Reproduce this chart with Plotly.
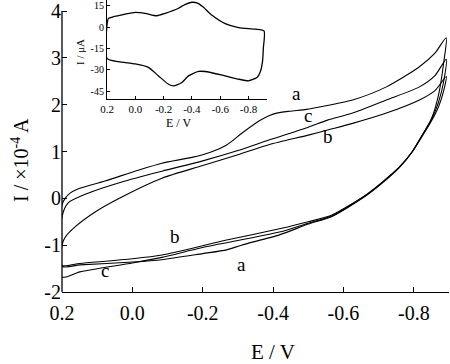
import plotly.graph_objects as go

# ---------------- main CV data (E / V, I / 1e-4 A) ----------------
E_a_fwd = [0.2, 0.191, 0.177, 0.155, 0.078, -0.016, -0.084, -0.172, -0.22, -0.268, -0.313, -0.362, -0.39, -0.41, -0.447, -0.495, -0.532, -0.626, -0.722, -0.816, -0.86, -0.892]
I_a_fwd = [-0.14, 0.0, 0.11, 0.2, 0.37, 0.6, 0.75, 0.88, 0.98, 1.14, 1.4, 1.66, 1.77, 1.82, 1.86, 1.9, 1.95, 2.1, 2.38, 2.81, 3.1, 3.43]
E_a_rev = [-0.885, -0.87, -0.85, -0.82, -0.796, -0.759, -0.711, -0.665, -0.569, -0.5, -0.418, -0.31, -0.268, -0.2, -0.084, 0.0, 0.149, 0.2]
I_a_rev = [2.9, 2.2, 1.7, 1.3, 1.0, 0.66, 0.33, 0.06, -0.38, -0.55, -0.78, -1.0, -1.1, -1.18, -1.31, -1.36, -1.42, -1.45]

E_b_fwd = [0.2, 0.191, 0.163, 0.106, 0.03, -0.084, -0.2, -0.3, -0.39, -0.5, -0.555, -0.626, -0.722, -0.816, -0.86, -0.892]
I_b_fwd = [-1.0, -0.83, -0.61, -0.29, 0.03, 0.43, 0.7, 0.93, 1.15, 1.35, 1.46, 1.6, 1.82, 2.1, 2.3, 2.6]
E_b_rev = [-0.885, -0.87, -0.85, -0.82, -0.796, -0.759, -0.711, -0.665, -0.569, -0.5, -0.418, -0.268, -0.084, 0.0, 0.149, 0.2]
I_b_rev = [2.3, 1.95, 1.65, 1.28, 1.0, 0.67, 0.35, 0.08, -0.35, -0.5, -0.65, -0.89, -1.21, -1.29, -1.39, -1.43]

E_c_fwd = [0.2, 0.183, 0.126, 0.03, -0.084, -0.2, -0.3, -0.39, -0.5, -0.555, -0.626, -0.722, -0.816, -0.86, -0.892]
I_c_fwd = [-0.4, -0.1, 0.11, 0.35, 0.58, 0.8, 1.02, 1.25, 1.52, 1.67, 1.82, 2.1, 2.38, 2.62, 2.97]
E_c_rev = [-0.885, -0.87, -0.85, -0.82, -0.796, -0.759, -0.711, -0.665, -0.569, -0.5, -0.418, -0.2, -0.084, 0.0, 0.149, 0.2]
I_c_rev = [2.5, 2.05, 1.68, 1.3, 1.0, 0.66, 0.34, 0.07, -0.37, -0.53, -0.72, -1.05, -1.26, -1.38, -1.57, -1.68]

# ---------------- inset CV data (E / V, I / uA) ----------------
E_in_top = [0.2, 0.19, 0.154, 0.071, 0.0, -0.07, -0.152, -0.211, -0.305, -0.35, -0.4, -0.44, -0.48, -0.54, -0.635, -0.73, -0.847, -0.91]
I_in_top = [1.4, 6.2, 7.4, 9.3, 10.5, 9.8, 8.1, 9.8, 13.4, 16.0, 17.6, 17.0, 14.2, 8.6, 2.6, -0.2, -1.4, -2.6]
E_in_turn = [-0.905, -0.9, -0.885, -0.86, -0.823, -0.8]
I_in_turn = [-15.0, -23.5, -31.0, -35.5, -37.1, -37.8]
E_in_bot = [-0.73, -0.635, -0.494, -0.447, -0.376, -0.329, -0.27, -0.235, -0.164, -0.093, 0.0, 0.119, 0.2]
I_in_bot = [-36.6, -34.3, -31.2, -31.2, -34.3, -39.0, -41.4, -40.2, -34.3, -28.3, -25.9, -24.3, -21.9]

# ---------------- ticks & labels ----------------
x_tickvals = [0.2, 0.0, -0.2, -0.4, -0.6, -0.8]
x_ticktext = ["0.2", "0.0", "-0.2", "-0.4", "-0.6", "-0.8"]
y_tickvals = [4, 3, 2, 1, 0, -1, -2]
y_ticktext = ["4", "3", "2", "1", "0", "-1", "-2"]
in_y_tickvals = [15, 0, -15, -30, -45]
in_y_ticktext = ["15", "0", "-15", "-30", "-45"]

curve_labels = ["a", "c", "b", "b", "a", "c"]
label_E = [-0.467, -0.498, -0.555, -0.12, -0.31, 0.078]
label_I = [2.23, 1.76, 1.31, -0.81, -1.41, -1.55]

FONT = "Liberation Serif, Times New Roman, serif"

fig = go.Figure()

def loop(ef, i_f, er, i_r):
    return ef + er + [ef[0]], i_f + i_r + [i_f[0]]

for ef, i_f, er, i_r in [(E_a_fwd, I_a_fwd, E_a_rev, I_a_rev),
                         (E_b_fwd, I_b_fwd, E_b_rev, I_b_rev),
                         (E_c_fwd, I_c_fwd, E_c_rev, I_c_rev)]:
    xs, ys = loop(ef, i_f, er, i_r)
    fig.add_trace(go.Scatter(x=xs, y=ys, mode="lines",
                             line=dict(color="black", width=1.1, shape="spline", smoothing=0.7),
                             showlegend=False, hoverinfo="skip"))

xs_in = E_in_top + E_in_turn + E_in_bot + [E_in_top[0]]
ys_in = I_in_top + I_in_turn + I_in_bot + [I_in_top[0]]
fig.add_trace(go.Scatter(x=xs_in, y=ys_in, mode="lines", xaxis="x2", yaxis="y2",
                         line=dict(color="black", width=1.3, shape="spline", smoothing=0.6),
                         showlegend=False, hoverinfo="skip"))

W, H = 450, 364
ml, mr, mt, mb = 62, 1, 0, 72
pw, ph = W - ml - mr, H - mt - mb

def px(x):
    return (x - ml) / pw

def py(y):
    return (H - mb - y) / ph

annotations = []
for t, e, i in zip(curve_labels, label_E, label_I):
    annotations.append(dict(x=e, y=i, xref="x", yref="y", text=t, showarrow=False,
                            font=dict(family=FONT, size=19, color="black"),
                            xanchor="center", yanchor="middle"))
annotations += [
    dict(x=px(20), y=py(160), xref="paper", yref="paper", text="I / ×10<sup>-4</sup> A",
         textangle=-90, showarrow=False, font=dict(family=FONT, size=20, color="black"),
         xanchor="center", yanchor="middle"),
    dict(x=px(273), y=py(352), xref="paper", yref="paper", text="E / V",
         showarrow=False, font=dict(family=FONT, size=21, color="black"),
         xanchor="center", yanchor="middle"),
    dict(x=px(80), y=py(52), xref="paper", yref="paper", text="I / μA",
         textangle=-90, showarrow=False, font=dict(family=FONT, size=11, color="black"),
         xanchor="center", yanchor="middle"),
    dict(x=px(178), y=py(123), xref="paper", yref="paper", text="E / V",
         showarrow=False, font=dict(family=FONT, size=12, color="black"),
         xanchor="center", yanchor="middle"),
]

fig.update_layout(
    width=W, height=H,
    margin=dict(l=ml, r=mr, t=mt, b=mb, pad=0, autoexpand=False),
    paper_bgcolor="white", plot_bgcolor="white",
    font=dict(family=FONT, color="black"),
    xaxis=dict(range=[0.2, -0.9], domain=[0, 1], tickvals=x_tickvals, ticktext=x_ticktext,
               ticks="inside", ticklen=5, tickwidth=1.2, tickcolor="black", ticklabelstandoff=3,
               showline=True, linecolor="black", linewidth=1.3, showgrid=False, zeroline=False,
               tickfont=dict(family=FONT, size=20, color="black"), anchor="y"),
    yaxis=dict(range=[-2, 4 + 11 / 46.8], domain=[0, 1], tickvals=y_tickvals, ticktext=y_ticktext,
               ticks="inside", ticklen=5, tickwidth=1.2, tickcolor="black",
               showline=False, showgrid=False, zeroline=False,
               tickfont=dict(family=FONT, size=20, color="black"), anchor="x"),
    xaxis2=dict(range=[0.2, -0.931], domain=[px(107), px(267)], anchor="y2",
                tickvals=x_tickvals, ticktext=x_ticktext,
                ticks="inside", ticklen=3, tickwidth=1, tickcolor="black",
                showline=True, linecolor="black", linewidth=1.2, showgrid=False, zeroline=False,
                tickfont=dict(family=FONT, size=11, color="black")),
    yaxis2=dict(range=[-50.6, 19.2], domain=[py(99), 1], anchor="x2",
                tickvals=in_y_tickvals, ticktext=in_y_ticktext,
                ticks="inside", ticklen=3, tickwidth=1, tickcolor="black",
                showline=True, linecolor="black", linewidth=1.2, showgrid=False, zeroline=False,
                tickfont=dict(family=FONT, size=10, color="black")),
    annotations=annotations,
    shapes=[dict(type="line", xref="paper", yref="y", x0=0, x1=0, y0=-2, y1=4,
                 line=dict(color="black", width=1.3))],
)

fig.write_html("out.html", config={"displayModeBar": False},
               post_script="document.body.style.margin='0';document.body.style.overflow='hidden';")
